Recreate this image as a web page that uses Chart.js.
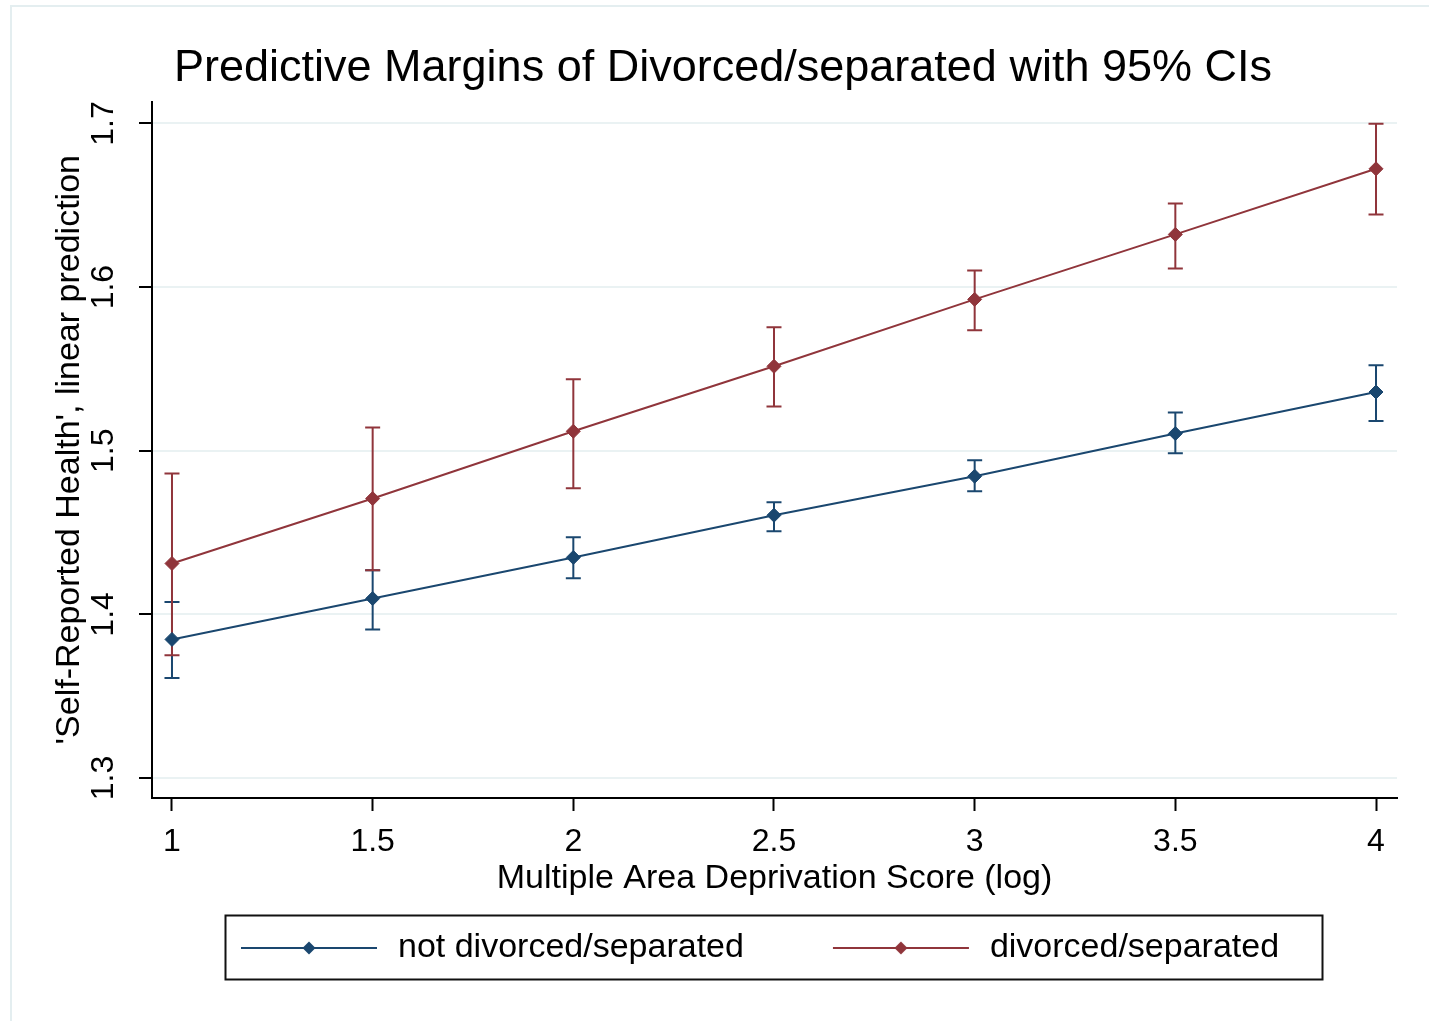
<!DOCTYPE html>
<html>
<head>
<meta charset="utf-8">
<title>Predictive Margins of Divorced/separated with 95% CIs</title>
<script src="https://cdn.jsdelivr.net/npm/chart.js@4.4.1/dist/chart.umd.min.js"></script>
<style>
  html, body { margin: 0; padding: 0; background: #ffffff; width: 1429px; height: 1021px; overflow: hidden; }
  #frame { position: absolute; left: 10px; top: 5px; width: 1460px; height: 1060px;
           border-top: 2px solid #e4eef0; border-left: 2px solid #e4eef0; box-sizing: border-box; }
  #wrap { position: absolute; left: 49px; top: 0; width: 1380px; height: 1021px; }
</style>
</head>
<body>
<div id="frame"></div>
<div id="wrap"><canvas id="chart" width="1380" height="1021"></canvas></div>
<script>
// Log deprivation score at which the margins were evaluated
const xValues = [1, 1.5, 2, 2.5, 3, 3.5, 4];

// Predicted self-reported health, not divorced/separated
const notDivorced     = [1.3847, 1.4097, 1.4348, 1.4606, 1.4844, 1.5105, 1.5359];
const notDivorcedLow  = [1.3611, 1.3908, 1.4221, 1.4508, 1.4753, 1.4985, 1.5182];
const notDivorcedHigh = [1.4075, 1.4270, 1.4472, 1.4685, 1.4942, 1.5233, 1.5522];

// Predicted self-reported health, divorced/separated
const divorced     = [1.4311, 1.4708, 1.5119, 1.5516, 1.5925, 1.6322, 1.6723];
const divorcedLow  = [1.3751, 1.4270, 1.4771, 1.5271, 1.5736, 1.6114, 1.6444];
const divorcedHigh = [1.4861, 1.5142, 1.5437, 1.5754, 1.6102, 1.6511, 1.6998];

const xTicks = [1, 1.5, 2, 2.5, 3, 3.5, 4];
const yTicks = [1.3, 1.4, 1.5, 1.6, 1.7];
const seriesNames = ['not divorced/separated', 'divorced/separated'];
const seriesColors = ['#1a476f', '#90353b'];

const FONT = '"Liberation Sans", Arial, Helvetica, sans-serif';
Chart.defaults.font.family = FONT;
Chart.defaults.color = '#000000';

const toPoints = vals => xValues.map((x, i) => ({ x: x, y: vals[i] }));

// Legend key: a line with a diamond in the middle, blank margins used as spacing
const KEY_GAP = 51, KEY_LINE = 136, KEY_TAIL = 4;
function legendKey(color) {
  const c = document.createElement('canvas');
  c.width = KEY_GAP + KEY_LINE + KEY_TAIL;
  c.height = 16;
  const g = c.getContext('2d');
  g.strokeStyle = color;
  g.lineWidth = 2;
  g.beginPath();
  g.moveTo(KEY_GAP, 8);
  g.lineTo(KEY_GAP + KEY_LINE, 8);
  g.stroke();
  const cx = KEY_GAP + KEY_LINE / 2, r = 6.5;
  g.fillStyle = color;
  g.beginPath();
  g.moveTo(cx, 8 - r); g.lineTo(cx + r, 8); g.lineTo(cx, 8 + r); g.lineTo(cx - r, 8);
  g.closePath();
  g.fill();
  return c;
}
const legendKeys = seriesColors.map(legendKey);

// Confidence interval whiskers with caps, drawn under the connected lines
const ciBands = [
  { low: notDivorcedLow, high: notDivorcedHigh, color: seriesColors[0] },
  { low: divorcedLow, high: divorcedHigh, color: seriesColors[1] }
];
const errorBars = {
  id: 'errorBars',
  beforeDatasetsDraw(chart) {
    const { ctx, scales: { x, y } } = chart;
    const cap = 7.5;
    ctx.save();
    ctx.lineWidth = 2;
    ciBands.forEach(band => {
      ctx.strokeStyle = band.color;
      xValues.forEach((xv, i) => {
        const px = x.getPixelForValue(xv);
        const top = y.getPixelForValue(band.high[i]);
        const bot = y.getPixelForValue(band.low[i]);
        ctx.beginPath();
        ctx.moveTo(px, top); ctx.lineTo(px, bot);
        ctx.moveTo(px - cap, top); ctx.lineTo(px + cap, top);
        ctx.moveTo(px - cap, bot); ctx.lineTo(px + cap, bot);
        ctx.stroke();
      });
    });
    ctx.restore();
  }
};

// Box around the legend entries
const legendFrame = {
  id: 'legendFrame',
  afterDraw(chart) {
    const hb = chart.legend && chart.legend.legendHitBoxes;
    if (!hb || !hb.length) return;
    const first = hb[0], last = hb[hb.length - 1];
    const left = first.left + KEY_GAP - 16;
    const right = last.left + last.width + 43;
    const mid = first.top + first.height / 2;
    const ctx = chart.ctx;
    ctx.save();
    ctx.strokeStyle = '#111111';
    ctx.lineWidth = 2;
    ctx.strokeRect(Math.round(left) + 0.5, Math.round(mid - 33) + 0.5, Math.round(right - left), 64);
    ctx.restore();
  }
};

new Chart(document.getElementById('chart'), {
  type: 'line',
  data: {
    datasets: [
      {
        label: seriesNames[0],
        data: toPoints(notDivorced),
        borderColor: seriesColors[0],
        backgroundColor: seriesColors[0],
        borderWidth: 2,
        pointStyle: 'rectRot',
        pointRadius: 7,
        pointBorderWidth: 1,
        tension: 0
      },
      {
        label: seriesNames[1],
        data: toPoints(divorced),
        borderColor: seriesColors[1],
        backgroundColor: seriesColors[1],
        borderWidth: 2,
        pointStyle: 'rectRot',
        pointRadius: 7,
        pointBorderWidth: 1,
        tension: 0
      }
    ]
  },
  options: {
    responsive: false,
    animation: false,
    devicePixelRatio: 1,
    events: [],
    layout: { padding: { left: 0, right: 32, top: 0, bottom: 46 } },
    scales: {
      x: {
        type: 'linear',
        min: 0.9502,
        max: 4.0523,
        afterBuildTicks: s => { s.ticks = xTicks.map(v => ({ value: v })); },
        ticks: {
          font: { size: 32, lineHeight: 1 },
          color: '#000000',
          padding: 15,
          maxRotation: 0,
          autoSkip: false,
          callback: v => String(v)
        },
        grid: { drawOnChartArea: false, drawTicks: true, tickLength: 13, tickColor: '#000000', tickWidth: 2 },
        border: { display: true, color: '#000000', width: 2 },
        title: {
          display: true,
          text: 'Multiple Area Deprivation Score (log)',
          font: { size: 34, lineHeight: 1 },
          color: '#000000',
          padding: { top: -11, bottom: -3 }
        }
      },
      y: {
        type: 'linear',
        min: 1.28779,
        max: 1.71343,
        afterBuildTicks: s => { s.ticks = yTicks.map(v => ({ value: v })); },
        afterFit: s => { s.width = 103; },
        ticks: {
          font: { size: 32, lineHeight: 1 },
          color: '#000000',
          padding: 13,
          minRotation: 90,
          maxRotation: 90,
          crossAlign: 'center',
          callback: v => v.toFixed(1)
        },
        grid: { color: '#eaf2f3', lineWidth: 2, tickLength: 13, tickColor: '#000000', tickWidth: 2 },
        border: { display: true, color: '#000000', width: 2 },
        title: {
          display: true,
          text: "'Self-Reported Health', linear prediction",
          font: { size: 34, lineHeight: 1 },
          color: '#000000',
          padding: { top: 4, bottom: 0 }
        }
      }
    },
    plugins: {
      title: {
        display: true,
        text: 'Predictive Margins of Divorced/separated with 95% CIs',
        font: { size: 45, weight: 'normal', lineHeight: 1.2 },
        color: '#000000',
        padding: { top: 41.5, bottom: 6 }
      },
      legend: {
        display: true,
        position: 'bottom',
        align: 'start',
        fullSize: false,
        labels: {
          font: { size: 34 },
          color: '#000000',
          padding: 38,
          usePointStyle: true,
          pointStyleWidth: KEY_GAP + KEY_LINE + KEY_TAIL,
          generateLabels: chart => chart.data.datasets.map((ds, i) => ({
            text: ds.label,
            pointStyle: legendKeys[i],
            fillStyle: ds.backgroundColor,
            strokeStyle: ds.borderColor,
            lineWidth: 0,
            hidden: false,
            datasetIndex: i,
            fontColor: '#000000'
          }))
        }
      },
      tooltip: { enabled: false }
    }
  },
  plugins: [errorBars, legendFrame]
});
</script>
</body>
</html>
